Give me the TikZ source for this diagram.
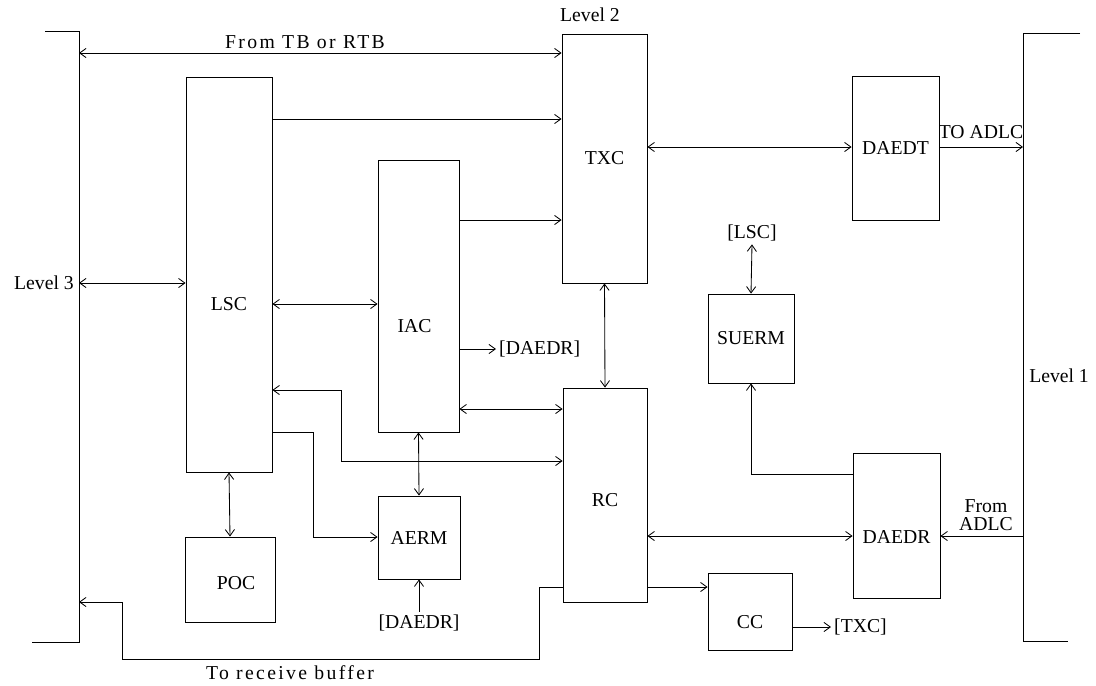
\documentclass[tikz,border=0pt]{standalone}
\usepackage{fontspec}
\setmainfont{Liberation Serif}
\newfontfamily\spacedfont[LetterSpace=12]{Liberation Serif}
\usetikzlibrary{arrows.meta}

\tikzset{
  blk/.style 2 args={draw, minimum width=#1*0.025cm, minimum height=#2*0.025cm, inner sep=0pt},
  txt/.style={inner sep=2pt},
}

\begin{document}
\begin{tikzpicture}[x=0.025cm, y=-0.025cm, line width=0.6pt,
    >={Straight Barb[length=4.5pt,width=6.5pt]},
    every node/.style={font=\fontsize{14}{16}\selectfont}]
  \useasboundingbox (0,0) rectangle (1096,685);

  % Level bars
  \draw (45,31) -- (79,31) -- (79,642) -- (32,642);
  \draw (1080,33) -- (1023,33) -- (1023,641) -- (1068,641);
  \node[txt] (lvtwo) at (590,15) {Level 2};
  \node[txt, left] (lvthree) at (77,283) {Level 3};
  \node[txt, right] (lvone) at (1026,376) {Level 1};
  \coordinate (l3tb) at (79,53);
  \coordinate (l3mid) at (79,283);
  \coordinate (l3rx) at (79,602);
  \coordinate (l1tx) at (1023,147);
  \coordinate (l1rx) at (1023,536);

  % Blocks
  \node[blk={85}{249}] (txc) at (604.5,158.5) {TXC};
  \node[blk={86}{395}, label={[yshift=-30*0.025cm]center:LSC}] (lsc) at (229,274.5) {};
  \node[blk={81}{272}, label={[xshift=-4*0.025cm, yshift=-30*0.025cm]center:IAC}] (iac) at (418.5,296) {};
  \node[blk={87}{144}] (daedt) at (895.5,148) {DAEDT};
  \node[blk={86}{89}] (suerm) at (751,338.5) {SUERM};
  \node[blk={84}{214}, label={[yshift=-5*0.025cm]center:RC}] (rc) at (605,495) {};
  \node[blk={87}{145}, label={[yshift=-12*0.025cm]center:DAEDR}] (daedr) at (896.5,525.5) {};
  \node[blk={84}{77}, label={[yshift=-11*0.025cm]center:CC}] (cc) at (750,611.5) {};
  \node[blk={82}{83}] (aerm) at (419,537.5) {AERM};
  \node[blk={90}{85}, label={[xshift=6*0.025cm, yshift=-4*0.025cm]center:POC}] (poc) at (230,579.5) {};

  % Texts
  \node[txt] (tbrtb) at (305,42) {\spacedfont From TB or RTB};
  \node[txt] (toadlc) at (981,132) {TO ADLC};
  \node[txt, align=center, font=\fontsize{14}{13}\selectfont] (fromadlc) at (986,515) {From\\ADLC};
  \node[txt] (lscref) at (752,233) {[LSC]};
  \node[txt, right] (daedrrefa) at (496,349) {[DAEDR]};
  \node[txt] (daedrrefb) at (419,623) {[DAEDR]};
  \node[txt, right] (txcref) at (831,627) {[TXC]};
  \node[txt] (rxbuf) at (290,673) {\spacedfont To receive buffer};

  % Connectors
  \draw[<->] (l3tb) -- (txc.west |- l3tb);
  \draw[->] (lsc.east |- 0,119) -- (txc.west |- 0,119);
  \draw[->] (iac.east |- 0,220) -- (txc.west |- 0,220);
  \draw[<->] (txc.east |- 0,147) -- (daedt.west |- 0,147);
  \draw[->] (daedt.east |- l1tx) -- (l1tx);
  \draw[<->] (l3mid) -- (lsc.west |- l3mid);
  \draw[<->] (lsc.east |- 0,304) -- (iac.west |- 0,304);
  \draw[->] (iac.east |- 0,349) -- (daedrrefa.west);
  \draw[<->] (txc.south) -- (rc.north);
  \draw[<->] (iac.east |- 0,409) -- (rc.west |- 0,409);
  \draw[<->] (lsc.east |- 0,390) -- (341,390) -- (341,461) -- (rc.west |- 0,461);
  \draw[<->] (iac.south) -- (aerm.north);
  \draw[->] (lsc.east |- 0,432) -- (313,432) -- (313,537) -- (aerm.west |- 0,537);
  \draw[->] (daedrrefb.north) -- (aerm.south);
  \draw[<->] (lsc.south) -- (poc.north);
  \draw[->] (rc.east |- 0,587) -- (cc.west |- 0,587);
  \draw[->] (cc.east |- 0,627) -- (txcref.west);
  \draw[<->] (rc.east |- 0,536) -- (daedr.west |- 0,536);
  \draw[->] (l1rx) -- (daedr.east |- l1rx);
  \draw[->] (daedr.west |- 0,474) -- (suerm.south |- 0,474) -- (suerm.south);
  \draw[<->] (lscref.south) -- (suerm.north);
  \draw[->] (rc.west |- 0,587) -- (539,587) -- (539,659) -- (122,659) -- (122,602) -- (l3rx);
\end{tikzpicture}
\end{document}
